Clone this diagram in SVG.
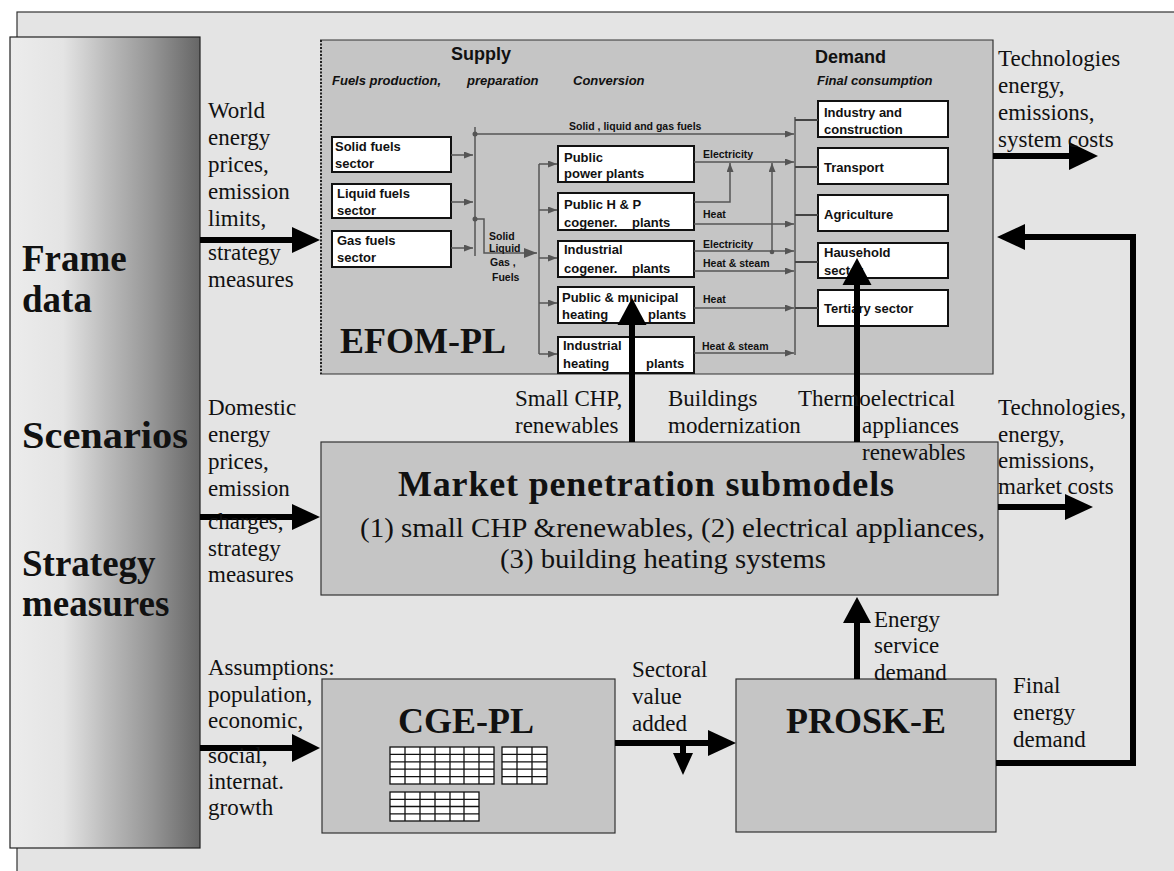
<svg xmlns="http://www.w3.org/2000/svg" width="1174" height="871" viewBox="0 0 1174 871">
  <defs>
    <linearGradient id="frameGrad" x1="0" y1="0" x2="1" y2="0">
      <stop offset="0" stop-color="#ececec"/>
      <stop offset="0.28" stop-color="#e4e4e4"/>
      <stop offset="0.5" stop-color="#bdbdbd"/>
      <stop offset="0.75" stop-color="#959595"/>
      <stop offset="1" stop-color="#666666"/>
    </linearGradient>
    <marker id="sa" markerUnits="userSpaceOnUse" markerWidth="9" markerHeight="7" refX="9" refY="3.5" orient="auto">
      <path d="M0,0 L9,3.5 L0,7 Z" fill="#555"/>
    </marker>
    <marker id="sb" markerUnits="userSpaceOnUse" markerWidth="13" markerHeight="10" refX="13" refY="5" orient="auto">
      <path d="M0,0 L13,5 L0,10 Z" fill="#555"/>
    </marker>
  </defs>
  <style>
    .serif { font-family: "Liberation Serif", "Times New Roman", serif; fill: #111; }
    .lbl { font-size: 23px; }
    .big { font-size: 36px; font-weight: bold; }
    .side { font-size: 37px; font-weight: bold; }
    .sans { font-family: "Liberation Sans", Arial, sans-serif; font-weight: bold; fill: #111; }
    .s13 { font-size: 13px; }
    .s10 { font-size: 10.5px; }
    .hdr { font-size: 18px; }
    .ital { font-size: 13px; font-style: italic; }
    .wbox { fill: #fff; stroke: #111; stroke-width: 2; }
    .panel { fill: #c5c5c5; stroke: #333; stroke-width: 1.2; }
    .thin { fill: none; stroke: #555; stroke-width: 1.5; }
    .branch { fill: none; stroke: #444; stroke-width: 2; }
    .shaft { fill: none; stroke: #000; stroke-width: 6; }
    .head { fill: #000; }
    .grid { fill: #fff; stroke: #111; stroke-width: 1.3; }
  </style>

  <!-- background sheet -->
  <rect x="17" y="12" width="1170" height="870" fill="#e4e4e4" stroke="#333" stroke-width="1.2"/>

  <!-- frame data column -->
  <g id="frame">
    <rect x="10" y="37" width="190" height="811" fill="url(#frameGrad)" stroke="#222" stroke-width="1.2"/>
    <text class="serif side" x="22" y="271">Frame</text>
    <text class="serif side" x="22" y="312">data</text>
    <text class="serif side" x="22" y="448" textLength="166" lengthAdjust="spacingAndGlyphs">Scenarios</text>
    <text class="serif side" x="22" y="576">Strategy</text>
    <text class="serif side" x="22" y="616">measures</text>
  </g>

  <!-- EFOM-PL supply/demand model -->
  <g id="efom">
    <rect x="320" y="40" width="673" height="334" fill="#c5c5c5"/>
    <path d="M320,40 H993 V374 H320" fill="none" stroke="#333" stroke-width="1.2"/>
    <line x1="321" y1="40" x2="321" y2="374" stroke="#222" stroke-width="2" stroke-dasharray="2,1.5"/>

    <text class="sans hdr" x="451" y="60">Supply</text>
    <text class="sans hdr" x="815" y="63">Demand</text>
    <text class="sans ital" x="332" y="85">Fuels production,</text>
    <text class="sans ital" x="467" y="85">preparation</text>
    <text class="sans ital" x="573" y="85">Conversion</text>
    <text class="sans ital" x="817" y="85">Final  consumption</text>

    <!-- fuel sectors -->
    <g id="solid-fuels">
      <rect class="wbox" x="332" y="137" width="119" height="35"/>
      <text class="sans s13" x="335" y="151">Solid fuels</text>
      <text class="sans s13" x="335" y="168">sector</text>
    </g>
    <g id="liquid-fuels">
      <rect class="wbox" x="332" y="184" width="119" height="34"/>
      <text class="sans s13" x="337" y="198">Liquid fuels</text>
      <text class="sans s13" x="337" y="215">sector</text>
    </g>
    <g id="gas-fuels">
      <rect class="wbox" x="332" y="231" width="119" height="36"/>
      <text class="sans s13" x="337" y="245">Gas fuels</text>
      <text class="sans s13" x="337" y="262">sector</text>
    </g>

    <!-- conversion plants -->
    <g id="public-power">
      <rect class="wbox" x="558" y="146" width="136" height="36"/>
      <text class="sans s13" x="564" y="162">Public</text>
      <text class="sans s13" x="564" y="178">power plants</text>
    </g>
    <g id="public-hp">
      <rect class="wbox" x="558" y="193" width="136" height="37"/>
      <text class="sans s13" x="564" y="209">Public  H &amp; P</text>
      <text class="sans s13" x="564" y="227">cogener.</text>
      <text class="sans s13" x="632" y="227">plants</text>
    </g>
    <g id="industrial-cogen">
      <rect class="wbox" x="558" y="241" width="136" height="36"/>
      <text class="sans s13" x="564" y="254">Industrial</text>
      <text class="sans s13" x="564" y="273">cogener.</text>
      <text class="sans s13" x="632" y="273">plants</text>
    </g>
    <g id="public-heating">
      <rect class="wbox" x="558" y="287" width="136" height="36"/>
      <text class="sans s13" x="562" y="302">Public  &amp; municipal</text>
      <text class="sans s13" x="562" y="319">heating</text>
      <text class="sans s13" x="648" y="319">plants</text>
    </g>
    <g id="industrial-heating">
      <rect class="wbox" x="558" y="337" width="136" height="36"/>
      <text class="sans s13" x="563" y="350">Industrial</text>
      <text class="sans s13" x="563" y="368">heating</text>
      <text class="sans s13" x="646" y="368">plants</text>
    </g>

    <!-- final consumption sectors -->
    <g id="industry">
      <rect class="wbox" x="818" y="101" width="130" height="36"/>
      <text class="sans s13" x="824" y="117">Industry and</text>
      <text class="sans s13" x="824" y="134">construction</text>
    </g>
    <g id="transport">
      <rect class="wbox" x="818" y="148" width="130" height="36"/>
      <text class="sans s13" x="824" y="172">Transport</text>
    </g>
    <g id="agriculture">
      <rect class="wbox" x="818" y="195" width="130" height="36"/>
      <text class="sans s13" x="824" y="219">Agriculture</text>
    </g>
    <g id="household">
      <rect class="wbox" x="818" y="243" width="130" height="35"/>
      <text class="sans s13" x="824" y="257">Hausehold</text>
      <text class="sans s13" x="824" y="275">sector</text>
    </g>
    <g id="tertiary">
      <rect class="wbox" x="818" y="290" width="130" height="36"/>
      <text class="sans s13" x="824" y="313">Tertiary  sector</text>
    </g>

    <text class="serif big" x="340" y="353">EFOM-PL</text>
  </g>

  <!-- energy flows inside EFOM-PL -->
  <g id="efom-flows">
    <line class="thin" x1="451" y1="155" x2="473" y2="155" marker-end="url(#sa)"/>
    <line class="thin" x1="451" y1="202" x2="473" y2="202" marker-end="url(#sa)"/>
    <line class="thin" x1="451" y1="248" x2="473" y2="248" marker-end="url(#sa)"/>
    <line class="thin" x1="475" y1="127" x2="475" y2="256" stroke-width="2"/>
    <circle cx="475" cy="134" r="2.5" fill="#555"/>
    <line class="thin" x1="475" y1="134" x2="794" y2="134" marker-end="url(#sa)"/>
    <text class="sans s10" x="569" y="130">Solid  , liquid and gas fuels</text>
    <circle cx="475" cy="219" r="2.5" fill="#555"/>
    <path class="thin" d="M475,219 H484 V253 H537" marker-end="url(#sb)"/>
    <text class="sans s10" x="489" y="240">Solid</text>
    <text class="sans s10" x="489" y="252">Liquid</text>
    <text class="sans s10" x="490" y="266">Gas ,</text>
    <text class="sans s10" x="492" y="281">Fuels</text>

    <line class="thin" x1="539" y1="164" x2="539" y2="354"/>
    <line class="thin" x1="539" y1="164" x2="557" y2="164" marker-end="url(#sa)"/>
    <line class="thin" x1="539" y1="210" x2="557" y2="210" marker-end="url(#sa)"/>
    <line class="thin" x1="539" y1="258" x2="557" y2="258" marker-end="url(#sa)"/>
    <line class="thin" x1="539" y1="303" x2="557" y2="303" marker-end="url(#sa)"/>
    <line class="thin" x1="539" y1="354" x2="557" y2="354" marker-end="url(#sa)"/>

    <line class="thin" x1="694" y1="162" x2="794" y2="162" marker-end="url(#sa)"/>
    <text class="sans s10" x="703" y="158">Electricity</text>
    <path class="thin" d="M694,202 H730 V163" marker-end="url(#sa)"/>
    <line class="thin" x1="694" y1="224" x2="794" y2="224" marker-end="url(#sa)"/>
    <text class="sans s10" x="703" y="218">Heat</text>
    <line class="thin" x1="694" y1="251" x2="794" y2="251" marker-end="url(#sa)"/>
    <text class="sans s10" x="703" y="248">Electricity</text>
    <circle cx="772" cy="252" r="2.3" fill="#555"/>
    <line class="thin" x1="772" y1="252" x2="772" y2="163" marker-end="url(#sa)"/>
    <line class="thin" x1="694" y1="271" x2="794" y2="271" marker-end="url(#sa)"/>
    <text class="sans s10" x="703" y="267">Heat   &amp; steam</text>
    <line class="thin" x1="694" y1="308" x2="794" y2="308" marker-end="url(#sa)"/>
    <text class="sans s10" x="703" y="303">Heat</text>
    <line class="thin" x1="694" y1="353" x2="794" y2="353" marker-end="url(#sa)"/>
    <text class="sans s10" x="702" y="350">Heat   &amp; steam</text>

    <line class="thin" x1="795" y1="117" x2="795" y2="355"/>
    <line class="branch" x1="795" y1="120" x2="818" y2="120"/>
    <line class="branch" x1="795" y1="167" x2="818" y2="167"/>
    <line class="branch" x1="795" y1="215" x2="818" y2="215"/>
    <line class="branch" x1="795" y1="262" x2="818" y2="262"/>
    <line class="branch" x1="795" y1="308" x2="818" y2="308"/>
  </g>

  <!-- market penetration submodels -->
  <g id="market">
    <rect class="panel" x="321" y="442" width="677" height="153"/>
    <text class="serif" x="398" y="496" font-size="36" font-weight="bold" textLength="496" lengthAdjust="spacing">Market  penetration  submodels</text>
    <text class="serif" x="360" y="537" font-size="28" textLength="625" lengthAdjust="spacingAndGlyphs">(1) small CHP &amp;renewables, (2) electrical appliances,</text>
    <text class="serif" x="500" y="568" font-size="28" textLength="326" lengthAdjust="spacingAndGlyphs">(3) building heating systems</text>
  </g>

  <!-- CGE-PL -->
  <g id="cge">
    <rect class="panel" x="322" y="679" width="293" height="154"/>
    <text class="serif big" x="466" y="733" text-anchor="middle">CGE-PL</text>
    <g id="cge-tables" fill="none">
      <rect class="grid" x="390" y="747" width="104" height="37"/>
      <path d="M405,747 V784 M420,747 V784 M435,747 V784 M450,747 V784 M464,747 V784 M479,747 V784 M390,754.4 H494 M390,761.8 H494 M390,769.2 H494 M390,776.6 H494" stroke="#111" stroke-width="1.3"/>
      <rect class="grid" x="502" y="747" width="45" height="37"/>
      <path d="M517,747 V784 M532,747 V784 M502,754.4 H547 M502,761.8 H547 M502,769.2 H547 M502,776.6 H547" stroke="#111" stroke-width="1.3"/>
      <rect class="grid" x="390" y="792" width="89" height="29"/>
      <path d="M405,792 V821 M420,792 V821 M435,792 V821 M450,792 V821 M464,792 V821 M390,799.3 H479 M390,806.5 H479 M390,813.8 H479" stroke="#111" stroke-width="1.3"/>
    </g>
  </g>

  <!-- PROSK-E -->
  <g id="prosk">
    <rect class="panel" x="736" y="679" width="260" height="153"/>
    <text class="serif big" x="866" y="733" text-anchor="middle">PROSK-E</text>
  </g>

  <!-- main data flows -->
  <g id="connectors">
    <path class="shaft" d="M200,240 H294"/>
    <polygon class="head" points="292,227 320,240 292,253"/>
    <path class="shaft" d="M200,517 H294"/>
    <polygon class="head" points="292,504 320,517 292,530"/>
    <path class="shaft" d="M200,748 H294"/>
    <polygon class="head" points="292,734 320,748 292,762"/>

    <path class="shaft" d="M993,156 H1072" stroke-width="7"/>
    <polygon class="head" points="1069,142 1098,156 1069,170"/>
    <path class="shaft" d="M998,507 H1067"/>
    <polygon class="head" points="1065,494 1093,507 1065,520"/>

    <path class="shaft" d="M632,442 V323" stroke-width="7"/>
    <polygon class="head" points="617.5,325 632,298 646.5,325"/>
    <path class="shaft" d="M857,442 V283" stroke-width="7"/>
    <polygon class="head" points="842.5,285 857,258 871.5,285"/>
    <path class="shaft" d="M857,679 V621" stroke-width="7"/>
    <polygon class="head" points="843,623 857,597 871,623"/>

    <path class="shaft" d="M615,743 H710"/>
    <polygon class="head" points="708,730 736,743 708,756"/>
    <path class="shaft" d="M683,743 V755"/>
    <polygon class="head" points="673,753 683,775 693,753"/>

    <path class="shaft" d="M996,763 H1133 V237 H1023"/>
    <polygon class="head" points="1025,224 997,237 1025,250"/>
  </g>

  <!-- flow labels -->
  <g id="labels" class="serif lbl">
    <text x="208" y="118">World</text>
    <text x="208" y="145">energy</text>
    <text x="208" y="172">prices,</text>
    <text x="208" y="199">emission</text>
    <text x="208" y="226">limits,</text>
    <text x="208" y="260">strategy</text>
    <text x="208" y="287">measures</text>

    <text x="208" y="415">Domestic</text>
    <text x="208" y="442">energy</text>
    <text x="208" y="469">prices,</text>
    <text x="208" y="496">emission</text>
    <text x="208" y="529">charges,</text>
    <text x="208" y="556">strategy</text>
    <text x="208" y="582">measures</text>

    <text x="208" y="675">Assumptions:</text>
    <text x="208" y="702">population,</text>
    <text x="208" y="728">economic,</text>
    <text x="208" y="763">social,</text>
    <text x="208" y="789">internat.</text>
    <text x="208" y="815">growth</text>

    <text x="998" y="66">Technologies</text>
    <text x="998" y="93">energy,</text>
    <text x="998" y="120">emissions,</text>
    <text x="998" y="147">system costs</text>

    <text x="998" y="415">Technologies,</text>
    <text x="998" y="442">energy,</text>
    <text x="998" y="468">emissions,</text>
    <text x="998" y="494">market costs</text>

    <text x="515" y="406">Small CHP,</text>
    <text x="515" y="433">renewables</text>
    <text x="668" y="406">Buildings</text>
    <text x="668" y="433">modernization</text>
    <text x="798" y="406">Thermoelectrical</text>
    <text x="862" y="433">appliances</text>
    <text x="862" y="460">renewables</text>

    <text x="632" y="677">Sectoral</text>
    <text x="632" y="704">value</text>
    <text x="632" y="731">added</text>

    <text x="874" y="627">Energy</text>
    <text x="874" y="653">service</text>
    <text x="874" y="680">demand</text>

    <text x="1013" y="693">Final</text>
    <text x="1013" y="720">energy</text>
    <text x="1013" y="747">demand</text>
  </g>
</svg>
